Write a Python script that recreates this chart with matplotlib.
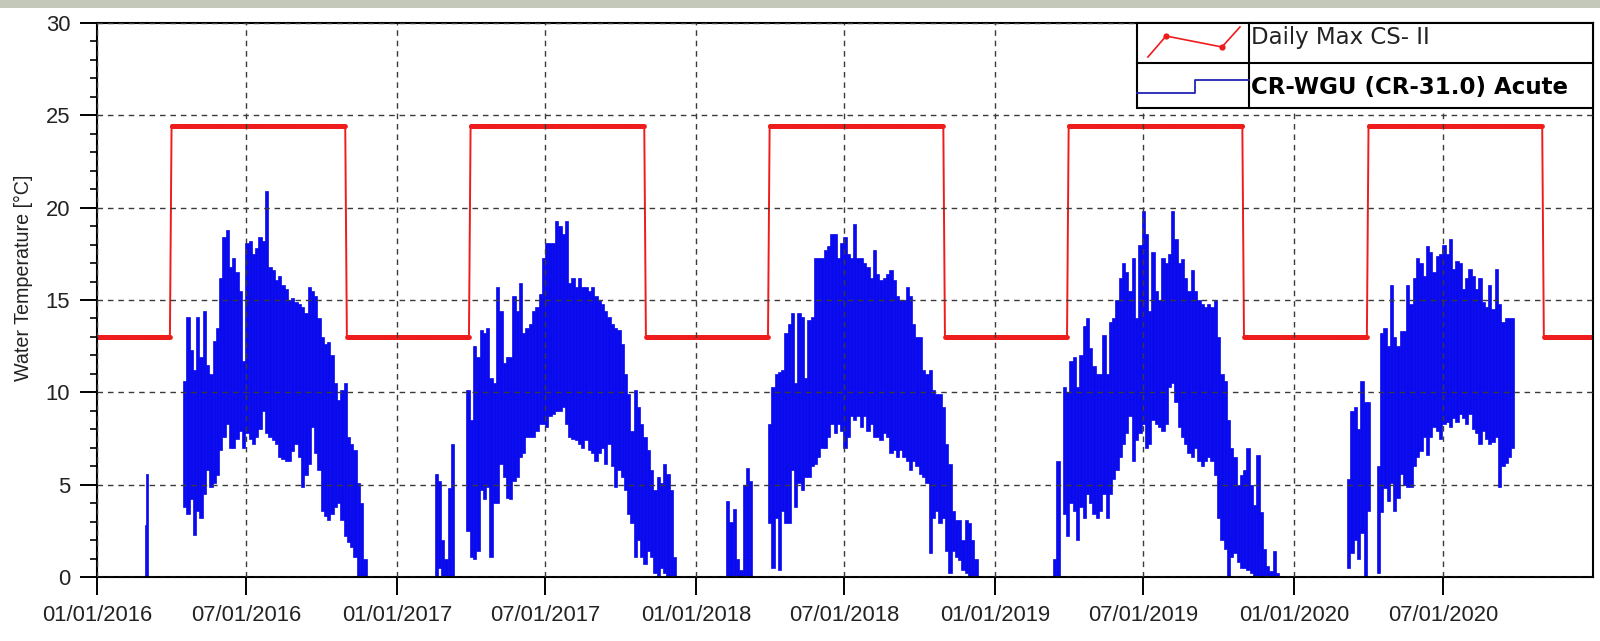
import numpy as np
import pandas as pd
import matplotlib
matplotlib.use('Agg')
import matplotlib.pyplot as plt
import matplotlib.dates as mdates
from matplotlib.ticker import MultipleLocator
from matplotlib.lines import Line2D
from matplotlib.patches import Rectangle

plt.rcParams['font.family'] = ['Liberation Sans', 'DejaVu Sans']

# ------------------------------------------------------------------ data
x_start = '2016-01-01'
x_end = '2020-12-31'

# Daily Max CS-II criterion (step function per season)
crit_winter = 13.0
crit_summer = 24.4
crit_transition = 18.7
summer_first = '04-01'
summer_last = '10-30'
transition_days = ['03-31', '10-31']

# CR-WGU (CR-31.0) water temperature: daily range (high / low),
# one value every `step` days from the segment start date
wt16a_start, wt16a_step = '2016-02-29', 2
wt16a_hi = [2.8, 5.6]
wt16a_lo = [0.0, 0.0]

wt16_start, wt16_step = '2016-04-17', 4
wt16_hi = [10.6, 14.1, 12.3, 11.2, 14.1, 11.9, 14.4, 11.5, 11.0, 12.8, 13.5, 16.2, 18.4, 18.8,
           16.8, 17.3, 16.5, 15.5, 11.7, 18.1, 18.2, 17.5, 17.8, 18.4, 18.2, 20.9, 16.8, 16.6,
           16.1, 16.3, 15.8, 15.6, 15.0, 15.1, 14.9, 14.8, 14.6, 14.3, 15.7, 15.5, 15.2, 14.0,
           13.0, 12.6, 12.7, 12.0, 10.5, 9.6, 10.1, 10.5, 7.6, 7.2, 6.9, 5.1, 4.0, 1.0]
wt16_lo = [3.8, 3.4, 4.2, 2.3, 3.6, 3.2, 4.5, 5.8, 4.9, 5.1, 5.5, 6.9, 7.6, 8.3,
           7.0, 7.0, 7.5, 7.9, 7.0, 7.8, 7.5, 7.2, 7.6, 8.0, 9.0, 7.8, 7.6, 7.4,
           7.2, 6.5, 6.4, 6.3, 6.3, 6.8, 7.2, 6.5, 4.9, 5.5, 6.1, 8.1, 6.7, 5.8,
           3.6, 3.3, 3.1, 3.4, 3.8, 4.0, 3.1, 2.2, 1.9, 1.6, 1.1, 0.0, 0.0, 0.0]

wt17a_start, wt17a_step = '2017-02-18', 4
wt17a_hi = [5.6, 5.2, 2.0, 1.0, 4.8, 7.2]
wt17a_lo = [0.0, 0.5, 0.0, 0.0, 0.0, 0.0]

wt17_start, wt17_step = '2017-03-29', 4
wt17_hi = [10.1, 8.5, 12.5, 11.9, 13.4, 13.2, 13.5, 10.8, 10.5, 15.7,
           14.4, 11.6, 11.9, 11.9, 15.2, 14.4, 15.9, 13.2, 13.5, 13.7,
           14.4, 14.6, 15.3, 17.3, 18.1, 18.1, 18.1, 19.3, 19.0, 18.6,
           19.3, 15.9, 16.2, 15.7, 16.2, 15.7, 15.7, 15.5, 15.7, 15.2,
           15.0, 14.8, 14.4, 14.1, 13.7, 13.5, 13.4, 12.6, 11.0, 9.9,
           7.9, 10.1, 9.2, 8.3, 7.6, 6.9, 5.8, 4.7, 5.4, 5.1,
           6.1, 5.6, 4.7, 1.1]
wt17_lo = [2.5, 1.1, 1.0, 1.4, 4.7, 4.2, 4.9, 1.1, 4.0, 4.0,
           6.1, 5.4, 4.3, 4.2, 5.2, 5.4, 6.5, 6.7, 7.6, 7.6,
           7.6, 7.9, 8.3, 8.3, 8.1, 8.7, 8.8, 9.0, 9.0, 9.2,
           8.3, 7.6, 7.5, 7.4, 7.2, 7.0, 7.4, 6.9, 6.7, 6.3,
           6.7, 7.0, 6.1, 7.2, 6.0, 4.9, 5.8, 5.4, 4.7, 3.4,
           2.9, 1.1, 2.0, 1.1, 0.7, 1.4, 1.1, 0.2, 0.0, 0.5,
           0.2, 0.0, 0.0, 0.0]

wt18a_start, wt18a_step = '2018-02-09', 4
wt18a_hi = [4.1, 3.0, 3.7, 1.0, 0.4, 5.0, 5.9, 5.2]
wt18a_lo = [0.0, 0.0, 0.0, 0.0, 0.0, 0.0, 0.0, 0.0]

wt18_start, wt18_step = '2018-04-01', 4
wt18_hi = [8.3, 10.3, 11.0, 11.1, 11.2, 13.2, 13.7, 14.3, 10.5, 14.3,
           14.1, 10.8, 13.9, 14.1, 17.3, 17.3, 17.3, 17.7, 17.9, 18.6,
           18.6, 17.3, 18.1, 18.4, 17.5, 17.3, 19.1, 17.3, 17.3, 17.0,
           16.8, 16.2, 17.7, 16.4, 16.1, 16.2, 16.4, 16.6, 16.1, 15.2,
           15.0, 15.0, 15.7, 15.2, 13.7, 13.0, 13.0, 11.2, 11.0, 11.2,
           10.1, 9.9, 9.9, 9.2, 7.2, 6.1, 3.6, 3.1, 3.1, 2.0,
           3.1, 2.9, 2.0, 1.0]
wt18_lo = [2.9, 0.5, 3.2, 0.4, 3.6, 2.9, 2.9, 5.8, 3.8, 5.1,
           4.7, 5.4, 5.4, 6.0, 6.1, 6.5, 7.0, 7.0, 7.6, 8.3,
           7.8, 8.3, 7.9, 7.0, 7.6, 8.7, 8.5, 8.7, 8.1, 8.7,
           7.9, 8.3, 7.6, 7.6, 7.4, 7.8, 7.6, 6.7, 6.9, 6.5,
           6.9, 6.5, 6.3, 5.8, 6.3, 6.0, 5.6, 5.4, 5.1, 1.3,
           3.2, 3.6, 2.9, 3.2, 1.4, 0.2, 1.4, 1.1, 0.9, 0.4,
           0.2, 0.0, 0.0, 0.0]

wt19a_start, wt19a_step = '2019-03-15', 4
wt19a_hi = [1.0, 6.3]
wt19a_lo = [0.0, 0.0]

wt19_start, wt19_step = '2019-03-27', 4
wt19_hi = [10.3, 10.0, 11.7, 11.9, 10.3, 12.0, 13.6, 14.0, 12.4, 11.4,
           11.0, 11.0, 13.1, 11.0, 13.8, 14.0, 15.0, 16.2, 17.0, 16.5,
           15.5, 17.3, 14.0, 18.0, 19.8, 18.6, 14.4, 17.6, 15.5, 15.0,
           17.3, 17.0, 17.5, 19.8, 18.3, 17.0, 17.2, 16.2, 15.5, 16.6,
           15.5, 15.0, 14.8, 14.6, 14.8, 14.6, 15.0, 13.0, 11.0, 10.6,
           8.5, 7.0, 6.5, 5.0, 5.5, 5.8, 7.0, 5.0, 3.9, 6.6,
           3.5, 1.5, 0.6, 0.3, 1.4, 0.2]
wt19_lo = [3.4, 2.2, 4.0, 3.6, 2.0, 3.8, 3.2, 4.5, 4.0, 3.4,
           3.2, 3.6, 4.5, 3.2, 4.5, 5.3, 5.8, 6.5, 7.2, 7.8,
           8.7, 6.3, 7.4, 7.8, 8.3, 7.0, 7.2, 8.5, 8.3, 8.1,
           7.9, 8.3, 10.3, 10.5, 9.5, 8.1, 7.6, 7.2, 6.7, 6.5,
           7.0, 6.3, 6.0, 6.3, 6.5, 6.3, 5.5, 3.2, 2.0, 1.5,
           0.0, 1.1, 1.3, 0.8, 0.5, 0.5, 0.4, 0.2, 0.0, 0.0,
           0.0, 0.0, 0.0, 0.0, 0.0, 0.0]

wt20a_start, wt20a_step = '2020-03-08', 4
wt20a_hi = [5.3, 9.0, 9.2, 8.0, 10.6, 9.5, 9.5]
wt20a_lo = [0.5, 1.3, 2.0, 1.0, 2.4, 0.0, 3.6]

wt20_start, wt20_step = '2020-04-13', 4
wt20_hi = [6.0, 13.2, 13.5, 12.5, 15.8, 13.0, 12.5, 13.3, 13.3, 15.8,
           14.8, 16.2, 17.3, 17.0, 16.3, 17.9, 17.6, 16.5, 17.4, 17.5,
           18.0, 17.5, 18.3, 16.7, 17.1, 17.0, 15.6, 16.2, 16.7, 16.3,
           15.6, 16.2, 14.9, 14.6, 15.8, 14.5, 16.7, 14.8, 13.8, 14.0,
           14.0, 14.0]
wt20_lo = [0.2, 3.5, 4.8, 4.1, 5.1, 3.6, 4.3, 5.6, 5.0, 4.9,
           4.9, 6.0, 6.5, 6.8, 7.6, 6.6, 7.6, 8.1, 7.9, 7.5,
           8.3, 8.4, 8.1, 8.6, 8.4, 8.8, 8.6, 8.3, 8.8, 8.0,
           7.8, 7.2, 7.9, 7.5, 7.2, 7.3, 7.6, 4.9, 6.0, 6.2,
           6.5, 7.0]

series_red_label = 'Daily Max CS- II'
series_blue_label = 'CR-WGU (CR-31.0) Acute'
y_label = 'Water Temperature [°C]'

# ------------------------------------------------------------------ style
RED = '#ee1c1c'
BLUE = '#0a0aee'
BLUE_LEG = '#2222b4'
TXT = '#222222'

fig = plt.figure(figsize=(16, 6.41), dpi=100)
fig.patch.set_facecolor('white')
fig.add_artist(Rectangle((0, 1 - 8 / 641), 1, 8 / 641, transform=fig.transFigure,
                         facecolor='#c3c8ba', edgecolor='none'))
ax = fig.add_axes([97 / 1600, 64 / 641, 1496 / 1600, 554 / 641])

# blue temperature ranges
segments = [
    (wt16a_start, wt16a_step, wt16a_hi, wt16a_lo),
    (wt16_start, wt16_step, wt16_hi, wt16_lo),
    (wt17a_start, wt17a_step, wt17a_hi, wt17a_lo),
    (wt17_start, wt17_step, wt17_hi, wt17_lo),
    (wt18a_start, wt18a_step, wt18a_hi, wt18a_lo),
    (wt18_start, wt18_step, wt18_hi, wt18_lo),
    (wt19a_start, wt19a_step, wt19a_hi, wt19a_lo),
    (wt19_start, wt19_step, wt19_hi, wt19_lo),
    (wt20a_start, wt20a_step, wt20a_hi, wt20a_lo),
    (wt20_start, wt20_step, wt20_hi, wt20_lo),
]
for start, step, hi, lo in segments:
    hi = np.asarray(hi, float)
    lo = np.asarray(lo, float)
    t0 = mdates.date2num(pd.Timestamp(start))
    xs = t0 + step * np.arange(len(hi))
    ax.bar(xs, hi - lo, bottom=lo, width=step, color=BLUE, edgecolor=BLUE,
           linewidth=0.5, zorder=1.5)

# red criterion
days = pd.date_range(x_start, x_end, freq='D')
md = np.array(days.strftime('%m-%d'))
crit = np.where((md >= summer_first) & (md <= summer_last), crit_summer, crit_winter)
crit[np.isin(md, transition_days)] = crit_transition
mark = crit != crit_transition
ax.plot(mdates.date2num(days), crit, color=RED, lw=1.4, marker='o', ms=3.4,
        mew=0, markevery=mark, zorder=2)

# axes
ax.set_xlim(mdates.date2num(pd.Timestamp(x_start)), mdates.date2num(pd.Timestamp(x_end)))
ax.set_ylim(0, 30)
ax.yaxis.set_major_locator(MultipleLocator(5))
ax.yaxis.set_minor_locator(MultipleLocator(1))
ax.xaxis.set_major_locator(mdates.MonthLocator(bymonth=[1, 7]))
ax.xaxis.set_major_formatter(mdates.DateFormatter('%m/%d/%Y'))
ax.tick_params(axis='y', which='major', length=12.2, width=1.4, pad=7,
               labelsize=15.8, labelcolor=TXT)
ax.tick_params(axis='y', which='minor', length=5, width=1.2)
ax.tick_params(axis='x', which='major', length=13, width=1.4, pad=7,
               labelsize=15.8, labelcolor=TXT)
for s in ax.spines.values():
    s.set_linewidth(1.5)
    s.set_color('black')
ax.set_axisbelow(False)
ax.grid(True, which='major', color='#3a3a3a', lw=1.0, linestyle=(0, (4, 3.5)))
ax.set_ylabel(y_label, fontsize=14.2, color=TXT)
ax.yaxis.set_label_coords(-0.0425, 0.54)

# table-style legend
lx0, lx1, ldiv = 0.6952, 1.0, 0.7701
ly0, ly1, lrow = 0.8466, 1.0, 0.9278
ax.add_patch(Rectangle((lx0, ly0), lx1 - lx0, ly1 - ly0, transform=ax.transAxes,
                       facecolor='white', edgecolor='black', lw=1.5, zorder=10,
                       clip_on=False))
ax.add_line(Line2D([ldiv, ldiv], [ly0, ly1], transform=ax.transAxes, color='black',
                   lw=1.5, zorder=11, clip_on=False))
ax.add_line(Line2D([lx0, lx1], [lrow, lrow], transform=ax.transAxes, color='black',
                   lw=1.5, zorder=11, clip_on=False))
ax.add_line(Line2D([0.7025, 0.7146, 0.7520, 0.7640], [0.9386, 0.9765, 0.9567, 0.9928],
                   transform=ax.transAxes, color=RED, lw=1.2, marker='o', ms=4.5,
                   mew=0, markevery=[1, 2], zorder=12, clip_on=False))
ax.add_line(Line2D([lx0, 0.7340, 0.7340, ldiv], [0.8731, 0.8731, 0.8971, 0.8971],
                   transform=ax.transAxes, color=BLUE_LEG, lw=1.3, zorder=12,
                   clip_on=False))
ax.text(0.7714, 0.9621, series_red_label, transform=ax.transAxes, fontsize=16.5,
        family=['DejaVu Sans'], va='baseline', ha='left', color=TXT, zorder=12)
ax.text(0.7714, 0.8718, series_blue_label, transform=ax.transAxes, fontsize=16.5,
        family=['DejaVu Sans'], fontweight='bold', va='baseline', ha='left',
        color='black', zorder=12)

fig.savefig('out.png', dpi=100, facecolor='white')
